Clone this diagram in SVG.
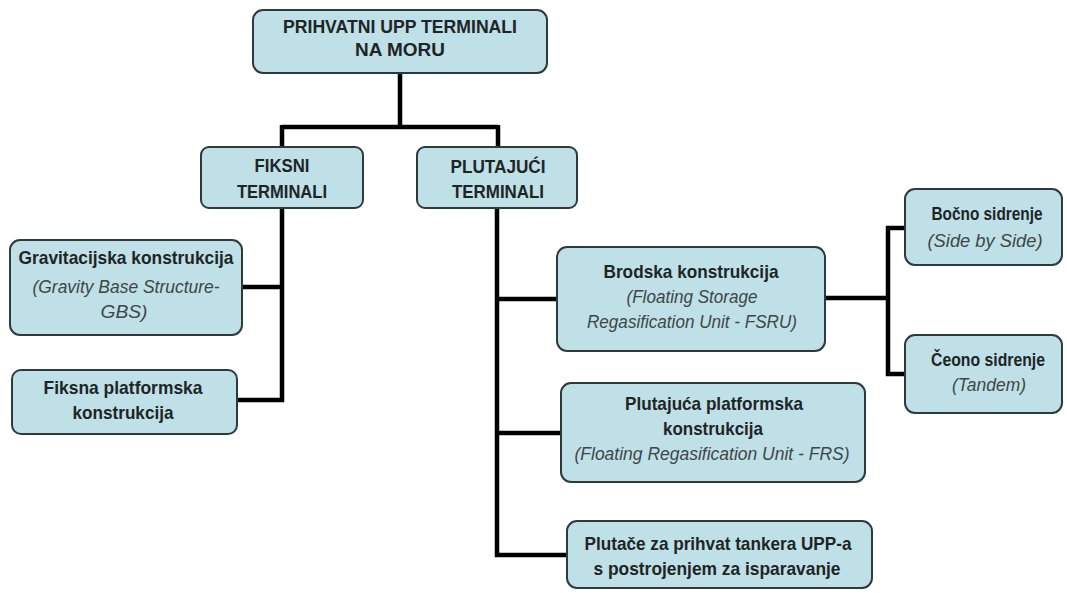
<svg xmlns="http://www.w3.org/2000/svg" width="1067" height="593" viewBox="0 0 1067 593">
<style>
.box{fill:#bfe0e6;stroke:#2f3a3c;stroke-width:2}
.t{font-family:"Liberation Sans",Arial,sans-serif;font-size:19px;font-weight:bold;fill:#1e2526;text-anchor:middle}
.i{font-weight:normal;font-style:italic;fill:#3d4749}
.c{fill:none;stroke:#000;stroke-width:4.5;stroke-linejoin:miter;stroke-linecap:butt}
</style>
<rect width="1067" height="593" fill="#fff"/>
<g id="connectors">
<path class="c" d="M400,73 V127 M282,127 H498 M282,125 V147 M498,125 V147"/>
<path class="c" d="M282,208 V402 M242,287 H282 M237,400 H284"/>
<path class="c" d="M497,208 V557 M497,299 H557 M497,433 H561 M495,555 H567"/>
<path class="c" d="M825,298 H888 M888,226 V376 M886,228 H905 M886,374 H905"/>
</g>
<g id="root">
<rect class="box" x="253" y="10" width="294" height="63" rx="10"/>
<text class="t" x="400" y="33" textLength="234" lengthAdjust="spacingAndGlyphs">PRIHVATNI UPP TERMINALI</text>
<text class="t" x="400" y="56" textLength="90" lengthAdjust="spacingAndGlyphs">NA MORU</text>
</g>
<g id="fiksni">
<rect class="box" x="201" y="147" width="162" height="61" rx="8"/>
<text class="t" x="282" y="172" textLength="55" lengthAdjust="spacingAndGlyphs">FIKSNI</text>
<text class="t" x="282" y="198" textLength="90" lengthAdjust="spacingAndGlyphs">TERMINALI</text>
</g>
<g id="plutajuci">
<rect class="box" x="417" y="147" width="160" height="61" rx="8"/>
<text class="t" x="498" y="173" textLength="95" lengthAdjust="spacingAndGlyphs">PLUTAJUĆI</text>
<text class="t" x="498" y="198" textLength="92" lengthAdjust="spacingAndGlyphs">TERMINALI</text>
</g>
<g id="gravitacijska">
<rect class="box" x="10" y="240" width="232" height="95" rx="10"/>
<text class="t" x="126" y="264" textLength="215" lengthAdjust="spacingAndGlyphs">Gravitacijska konstrukcija</text>
<text class="t i" x="126" y="293" textLength="187" lengthAdjust="spacingAndGlyphs">(Gravity Base Structure-</text>
<text class="t i" x="124" y="318" textLength="47" lengthAdjust="spacingAndGlyphs">GBS)</text>
</g>
<g id="fiksna">
<rect class="box" x="12" y="370" width="225" height="64" rx="9"/>
<text class="t" x="123" y="394" textLength="159" lengthAdjust="spacingAndGlyphs">Fiksna platformska</text>
<text class="t" x="123" y="419" textLength="101" lengthAdjust="spacingAndGlyphs">konstrukcija</text>
</g>
<g id="brodska">
<rect class="box" x="557" y="247" width="268" height="104" rx="10"/>
<text class="t" x="691" y="278" textLength="175" lengthAdjust="spacingAndGlyphs">Brodska konstrukcija</text>
<text class="t i" x="692" y="303" textLength="131" lengthAdjust="spacingAndGlyphs">(Floating Storage</text>
<text class="t i" x="692" y="328" textLength="210" lengthAdjust="spacingAndGlyphs">Regasification Unit - FSRU)</text>
</g>
<g id="bocno">
<rect class="box" x="905" y="189" width="157" height="76" rx="10"/>
<text class="t" x="987" y="220" textLength="111" lengthAdjust="spacingAndGlyphs">Bočno sidrenje</text>
<text class="t i" x="985" y="247" textLength="115" lengthAdjust="spacingAndGlyphs">(Side by Side)</text>
</g>
<g id="ceono">
<rect class="box" x="905" y="335" width="157" height="78" rx="10"/>
<text class="t" x="988" y="366" textLength="114" lengthAdjust="spacingAndGlyphs">Čeono sidrenje</text>
<text class="t i" x="989" y="391" textLength="74" lengthAdjust="spacingAndGlyphs">(Tandem)</text>
</g>
<g id="plutajuca">
<rect class="box" x="561" y="383" width="304" height="99" rx="10"/>
<text class="t" x="714" y="410" textLength="178" lengthAdjust="spacingAndGlyphs">Plutajuća platformska</text>
<text class="t" x="713" y="435" textLength="100" lengthAdjust="spacingAndGlyphs">konstrukcija</text>
<text class="t i" x="712" y="460" textLength="275" lengthAdjust="spacingAndGlyphs">(Floating Regasification Unit - FRS)</text>
</g>
<g id="plutace">
<rect class="box" x="567" y="521" width="305" height="67" rx="10"/>
<text class="t" x="718" y="550" textLength="267" lengthAdjust="spacingAndGlyphs">Plutače za prihvat tankera UPP-a</text>
<text class="t" x="717" y="575" textLength="247" lengthAdjust="spacingAndGlyphs">s postrojenjem za isparavanje</text>
</g>
</svg>
